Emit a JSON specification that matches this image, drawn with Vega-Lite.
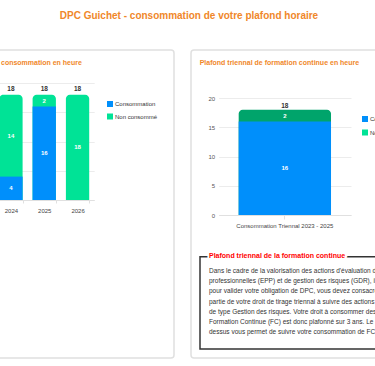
{
  "$schema": "https://vega.github.io/schema/vega-lite/v6.json",
  "background": "white",
  "padding": {"left": -10, "top": 11, "right": -18, "bottom": 9},
  "title": {"text": "DPC Guichet - consommation de votre plafond horaire", "color": "#f0872a", "fontSize": 10, "fontWeight": "bold", "anchor": "middle", "offset": 28, "dx": -13},
  "spacing": 15,
  "resolve": {"scale": {"color": "independent"}, "legend": {"color": "independent"}},
  "hconcat": [
    {
      "width": 183,
      "height": 308,
      "title": {"text": "consommation en heure", "anchor": "start", "frame": "group", "offset": -16, "dx": 10, "fontSize": 7, "fontWeight": "bold", "color": "#f0872a"},
      "data": {"values": [
        {"year": "2024", "type": "Consommation", "value": 4},
        {"year": "2024", "type": "Non consommé", "value": 14},
        {"year": "2025", "type": "Consommation", "value": 16},
        {"year": "2025", "type": "Non consommé", "value": 2},
        {"year": "2026", "type": "Consommation", "value": 0},
        {"year": "2026", "type": "Non consommé", "value": 18}
      ]},
      "encoding": {
        "x": {"field": "year", "type": "ordinal", "title": null,
          "scale": {"type": "band", "range": [3.3, 103.2], "paddingInner": 0.3, "paddingOuter": 0.15},
          "axis": {"orient": "bottom", "offset": -158, "labelAngle": 0, "domainColor": "#e0e0e0", "tickColor": "#e0e0e0", "tickBand": "extent", "tickSize": 3, "labelFontSize": 6, "labelColor": "#444", "labelPadding": 4, "grid": false}}
      },
      "layer": [
        {
          "mark": {"type": "bar", "color": "#00e396", "cornerRadiusTopLeft": 4, "cornerRadiusTopRight": 4},
          "encoding": {
            "y": {"aggregate": "sum", "field": "value", "type": "quantitative", "title": null,
              "scale": {"domain": [0, 20], "range": [150, 33], "nice": false},
              "axis": {"labels": false, "ticks": false, "domain": false, "grid": true, "gridColor": "#ececec", "values": [0, 5, 10, 15, 20], "title": null}}
          }
        },
        {
          "transform": [{"filter": "datum.type === 'Consommation'"}],
          "mark": {"type": "bar"},
          "encoding": {
            "y": {"field": "value", "type": "quantitative", "title": null},
            "color": {"field": "type", "type": "nominal",
              "scale": {"domain": ["Consommation", "Non consommé"], "range": ["#008ffb", "#00e396"]},
              "legend": {"orient": "none", "legendX": 116, "legendY": 51, "title": null, "symbolType": "square", "symbolSize": 36, "symbolStrokeWidth": 0, "labelFontSize": 6, "labelColor": "#333", "labelOffset": 2, "rowPadding": 6.5}}
          }
        },
        {
          "transform": [
            {"filter": "datum.value > 0"},
            {"stack": "value", "groupby": ["year"], "sort": [{"field": "type", "order": "ascending"}], "as": ["v0", "v1"]},
            {"fold": ["v0", "v1"], "as": ["edge", "pos"]}
          ],
          "mark": {"type": "text", "color": "white", "fontWeight": "bold", "fontSize": 6},
          "encoding": {
            "y": {"aggregate": "mean", "field": "pos", "type": "quantitative", "title": null},
            "detail": {"field": "type"},
            "text": {"aggregate": "max", "field": "value", "type": "quantitative"}
          }
        },
        {
          "mark": {"type": "text", "fontWeight": "bold", "fontSize": 6.5, "color": "#333", "dy": -5.4},
          "encoding": {
            "y": {"aggregate": "sum", "field": "value", "type": "quantitative", "title": null},
            "text": {"aggregate": "sum", "field": "value", "type": "quantitative"}
          }
        }
      ]
    },
    {
      "width": 201,
      "height": 308,
      "title": {"text": "Plafond triennal de formation continue en heure", "anchor": "start", "frame": "group", "offset": -16, "dx": 8.7, "fontSize": 7, "fontWeight": "bold", "color": "#f0872a"},
      "layer": [
        {
          "data": {"values": [
            {"period": "Consommation Triennal 2023 - 2025", "type": "Consommation", "value": 16},
            {"period": "Consommation Triennal 2023 - 2025", "type": "Non consommé", "value": 2}
          ]},
          "encoding": {
            "x": {"field": "period", "type": "nominal", "title": null,
              "scale": {"type": "band", "range": [27.7, 160], "paddingInner": 0.178, "paddingOuter": 0.178},
              "axis": {"orient": "bottom", "offset": -143, "labelAngle": 0, "domainColor": "#e0e0e0", "tickColor": "#e0e0e0", "tickSize": 4, "labelFontSize": 6, "labelColor": "#444", "labelPadding": 3, "grid": false}}
          },
          "layer": [
            {
              "mark": {"type": "bar", "color": "#00a46b", "cornerRadiusTopLeft": 4, "cornerRadiusTopRight": 4},
              "encoding": {
                "y": {"aggregate": "sum", "field": "value", "type": "quantitative", "title": null,
                  "scale": {"domain": [0, 20], "range": [165, 48], "nice": false},
                  "axis": {"orient": "left", "offset": -27.7, "labelFontSize": 6, "labelColor": "#555", "labelPadding": 4, "ticks": false, "domain": false, "grid": true, "gridColor": "#ececec", "values": [0, 5, 10, 15, 20], "title": null}}
              }
            },
            {
              "transform": [{"filter": "datum.type === 'Consommation'"}],
              "mark": {"type": "bar"},
              "encoding": {
                "y": {"field": "value", "type": "quantitative", "title": null},
                "color": {"field": "type", "type": "nominal",
                  "scale": {"domain": ["Consommation", "Non consommé"], "range": ["#008ffb", "#00e396"]},
                  "legend": {"orient": "none", "legendX": 171, "legendY": 66, "title": null, "symbolType": "square", "symbolSize": 36, "symbolStrokeWidth": 0, "labelFontSize": 6, "labelColor": "#333", "labelOffset": 2, "rowPadding": 7.5}}
              }
            },
            {
              "transform": [
                {"stack": "value", "groupby": ["period"], "sort": [{"field": "type", "order": "ascending"}], "as": ["v0", "v1"]},
                {"fold": ["v0", "v1"], "as": ["edge", "pos"]}
              ],
              "mark": {"type": "text", "color": "white", "fontWeight": "bold", "fontSize": 6},
              "encoding": {
                "y": {"aggregate": "mean", "field": "pos", "type": "quantitative", "title": null},
                "detail": {"field": "type"},
                "text": {"aggregate": "max", "field": "value", "type": "quantitative"}
              }
            },
            {
              "mark": {"type": "text", "fontWeight": "bold", "fontSize": 6.5, "color": "#333", "dy": -3.8},
              "encoding": {
                "y": {"aggregate": "sum", "field": "value", "type": "quantitative", "title": null},
                "text": {"aggregate": "sum", "field": "value", "type": "quantitative"}
              }
            }
          ]
        },
        {
          "data": {"values": [{"box": "Plafond triennal de la formation continue"}]},
          "mark": {"type": "bar", "fill": "transparent", "stroke": "#333", "strokeWidth": 1.5, "clip": true},
          "encoding": {
            "x": {"field": "box", "type": "nominal", "scale": {"type": "band", "range": [9, 420], "paddingInner": 0, "paddingOuter": 0}, "axis": null},
            "y": {"field": "box", "type": "nominal", "scale": {"type": "band", "range": [206.7, 299], "paddingInner": 0, "paddingOuter": 0}, "axis": null}
          }
        },
        {
          "data": {"values": [
            {"line": 0, "role": "title", "text": "Plafond triennal de la formation continue"},
            {"line": 1, "role": "body", "text": "Dans le cadre de la valorisation des actions d'évaluation des pratiques"},
            {"line": 2, "role": "body", "text": "professionnelles (EPP) et de gestion des risques (GDR), il est demandé"},
            {"line": 3, "role": "body", "text": "pour valider votre obligation de DPC, vous devez consacrer une"},
            {"line": 4, "role": "body", "text": "partie de votre droit de tirage triennal à suivre des actions"},
            {"line": 5, "role": "body", "text": "de type Gestion des risques. Votre droit à consommer des heures de"},
            {"line": 6, "role": "body", "text": "Formation Continue (FC) est donc plafonné sur 3 ans. Le graphique ci-"},
            {"line": 7, "role": "body", "text": "dessus vous permet de suivre votre consommation de FC."}
          ]},
          "encoding": {
            "x": {"datum": "Plafond triennal de la formation continue", "type": "nominal", "scale": {"type": "point", "range": [18, 300], "padding": 0, "align": 0}, "axis": null},
            "y": {"field": "line", "type": "ordinal", "scale": {"type": "point", "range": [206.7, 299], "padding": 1.333, "align": 0.187}, "axis": null},
            "text": {"field": "text"}
          },
          "layer": [
            {
              "transform": [{"filter": "datum.role === 'title'"}],
              "mark": {"type": "text", "align": "left", "baseline": "middle", "fontSize": 7, "fontWeight": "bold", "fill": "white", "stroke": "white", "strokeWidth": 4, "dy": -4.8, "clip": true}
            },
            {
              "transform": [{"filter": "datum.role === 'title'"}],
              "mark": {"type": "text", "align": "left", "baseline": "middle", "fontSize": 7, "fontWeight": "bold", "color": "#ff0000", "dy": -4.8, "clip": true}
            },
            {
              "transform": [{"filter": "datum.role === 'body'"}],
              "mark": {"type": "text", "align": "left", "baseline": "middle", "fontSize": 6.5, "color": "#333", "clip": true}
            }
          ]
        }
      ],
      "resolve": {"scale": {"x": "independent", "y": "independent"}}
    }
  ],
  "config": {
    "font": "Liberation Sans",
    "view": {"fill": "white", "stroke": "#e0e0e0", "strokeWidth": 1.5, "cornerRadius": 3}
  }
}
